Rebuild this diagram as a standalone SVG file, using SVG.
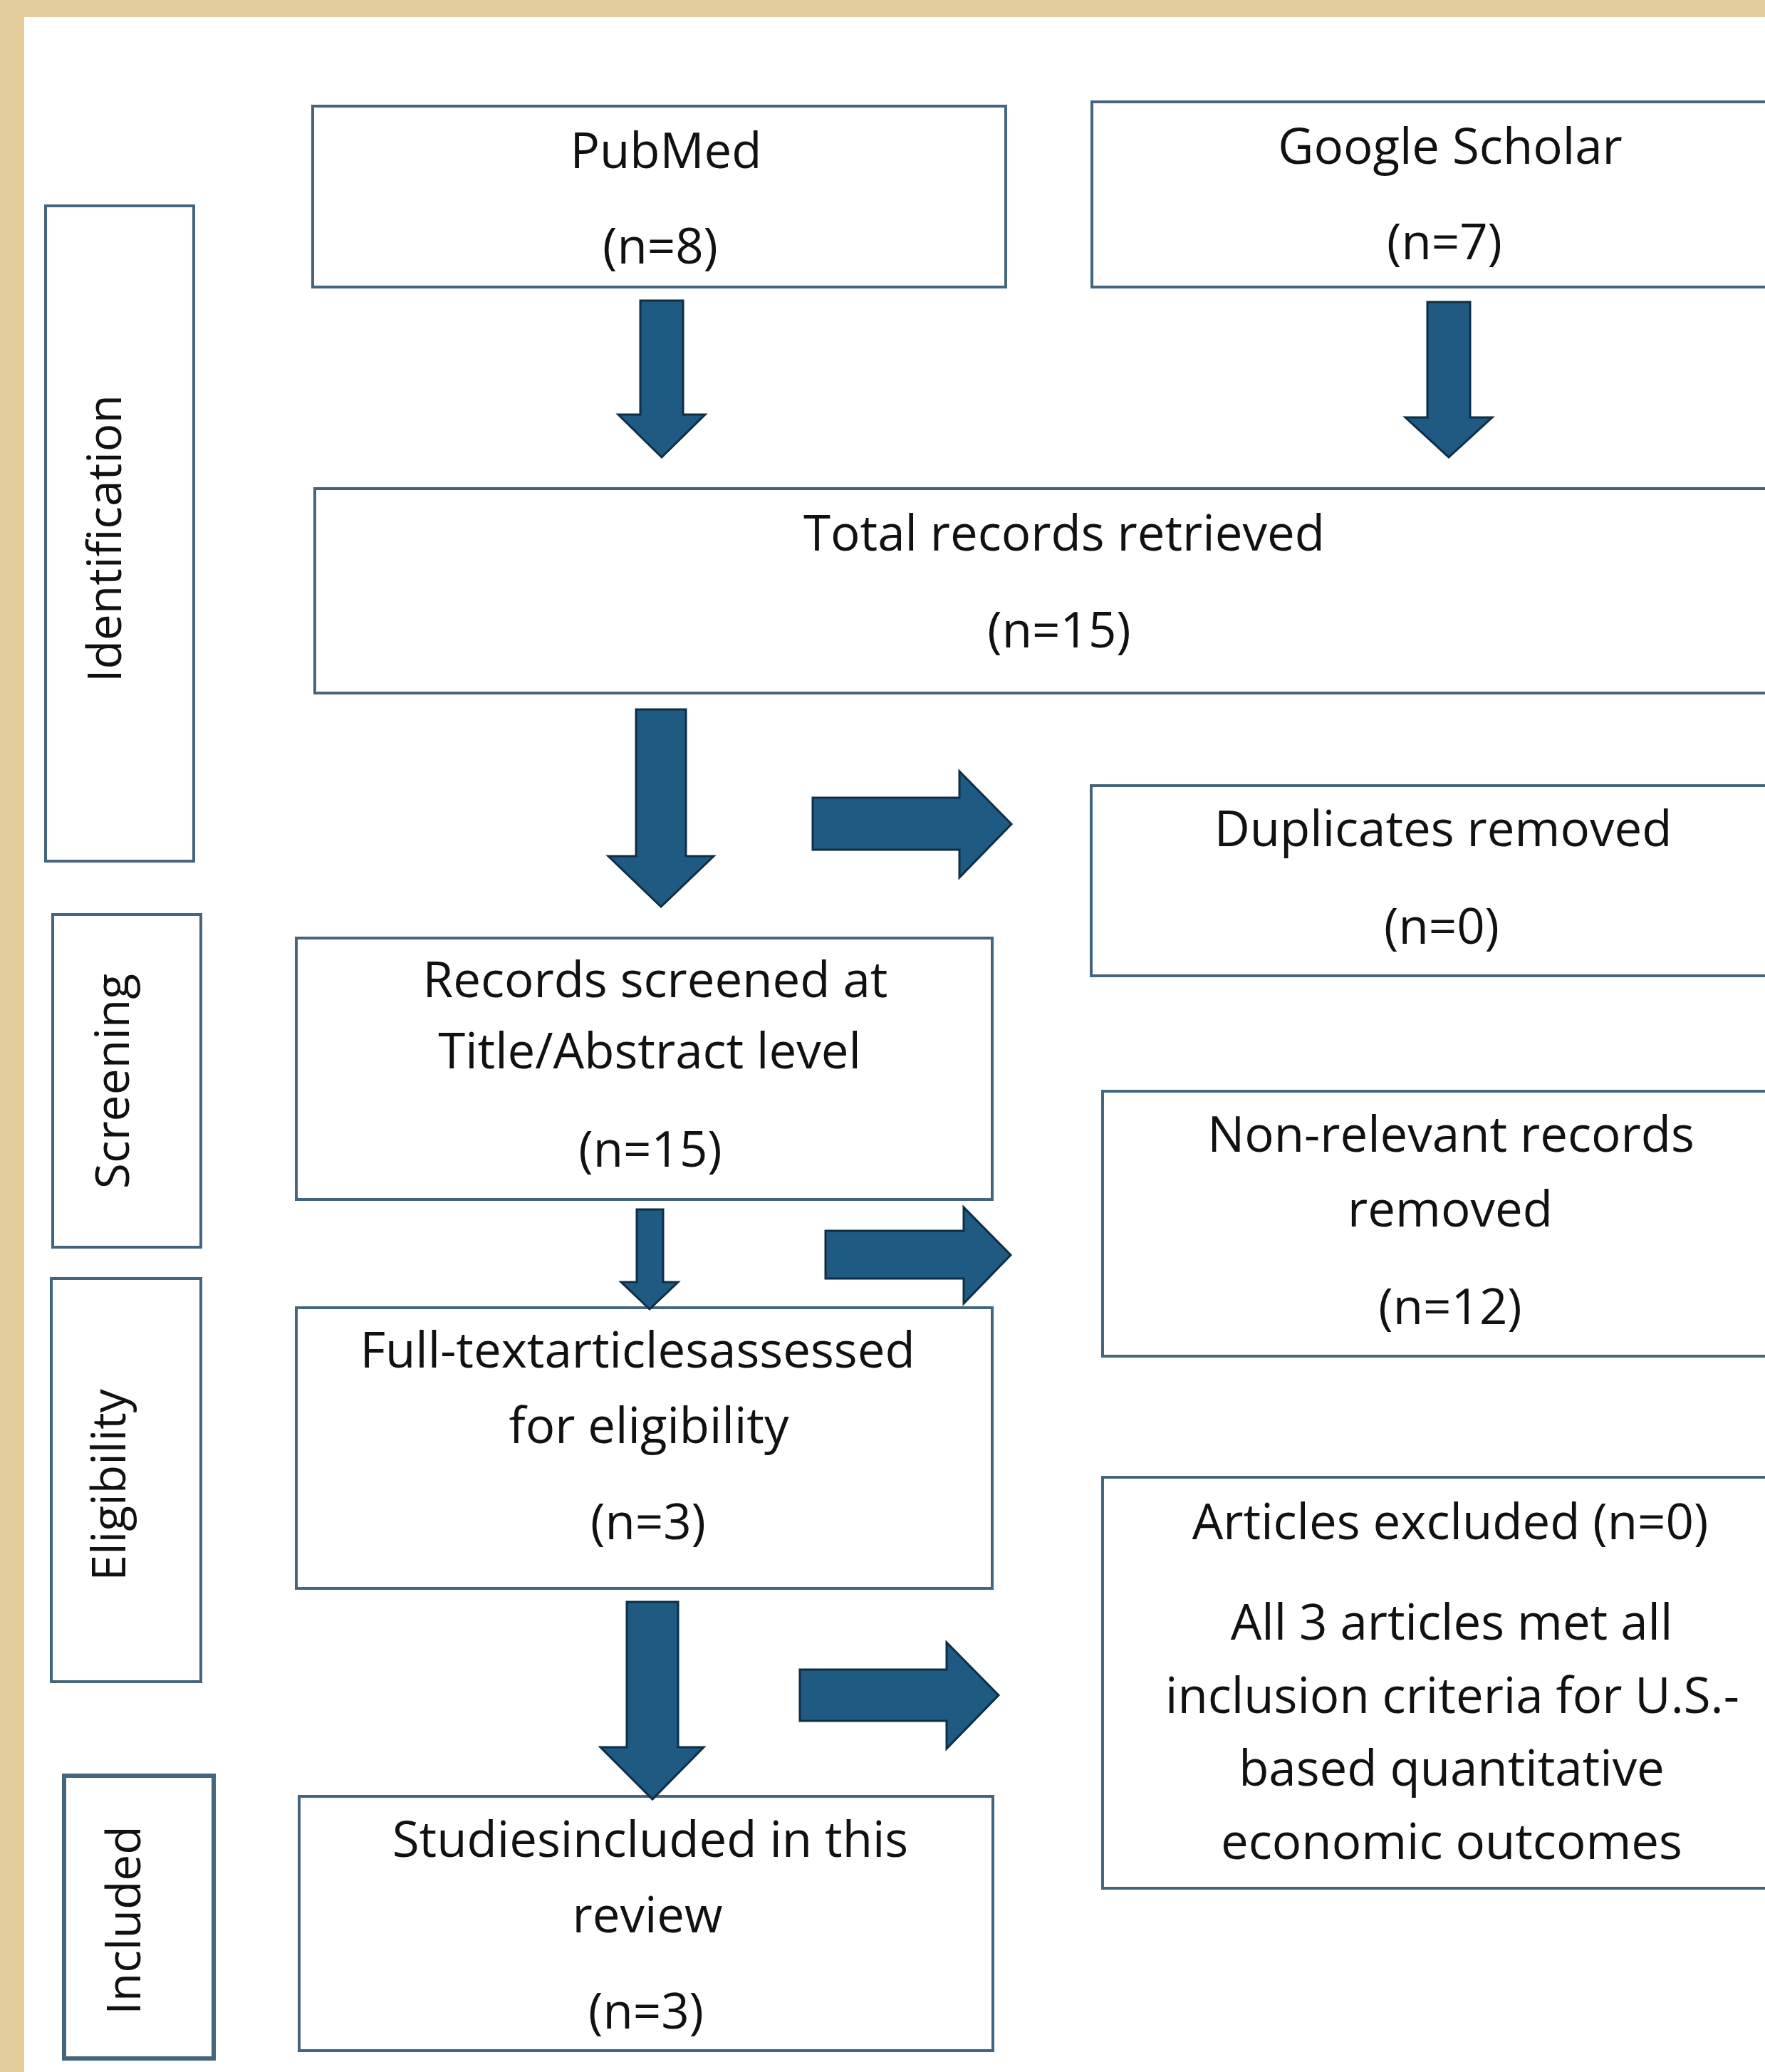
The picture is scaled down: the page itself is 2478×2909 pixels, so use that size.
<svg xmlns="http://www.w3.org/2000/svg" width="2478" height="2909" viewBox="0 0 2478 2909">
<style>
.box{fill:#ffffff;stroke:#45647D;stroke-width:4}
.side{fill:#ffffff;stroke:#45647D;stroke-width:4}
.t{font-family:"Open Sans","Liberation Sans",sans-serif;font-size:69px;fill:#111111;text-anchor:middle}
.v{font-family:"Open Sans","Liberation Sans",sans-serif;font-size:66px;fill:#111111;text-anchor:middle}
.arr{fill:#1F5A82;stroke:#0E2E45;stroke-width:3;stroke-linejoin:miter}
</style>
<rect x="0" y="0" width="2478" height="2909" fill="#ffffff"/>
<rect x="0" y="0" width="2478" height="24" fill="#E2CD9B"/>
<rect x="0" y="0" width="34" height="2909" fill="#E2CD9B"/>

<g id="stage-identification">
<rect class="side" x="64" y="289" width="208" height="920"/>
<text class="v" transform="translate(170,756) rotate(-90)">Identification</text>
</g>
<g id="stage-screening">
<rect class="side" x="74" y="1284" width="208" height="467"/>
<text class="v" transform="translate(181,1518) rotate(-90)">Screening</text>
</g>
<g id="stage-eligibility">
<rect class="side" x="72" y="1795" width="210" height="566"/>
<text class="v" transform="translate(176,2085) rotate(-90)">Eligibility</text>
</g>
<g id="stage-included">
<rect class="side" x="90" y="2493" width="210" height="397" style="stroke-width:6"/>
<text class="v" transform="translate(197,2696) rotate(-90)">Included</text>
</g>

<g id="pubmed">
<rect class="box" x="439" y="149" width="973" height="254"/>
<text class="t" x="935" y="236">PubMed</text>
<text class="t" x="927" y="370">(n=8)</text>
</g>
<g id="google-scholar">
<rect class="box" x="1533" y="143" width="1010" height="260"/>
<text class="t" x="2036" y="230">Google Scholar</text>
<text class="t" x="2028" y="364">(n=7)</text>
</g>
<g id="total-records">
<rect class="box" x="442" y="686" width="2104" height="287"/>
<text class="t" x="1494" y="773">Total records retrieved</text>
<text class="t" x="1487" y="909">(n=15)</text>
</g>
<g id="duplicates">
<rect class="box" x="1532" y="1103" width="1000" height="267"/>
<text class="t" x="2026" y="1188">Duplicates removed</text>
<text class="t" x="2024" y="1325">(n=0)</text>
</g>
<g id="records-screened">
<rect class="box" x="416" y="1317" width="977" height="367"/>
<text class="t" x="920" y="1400">Records screened at</text>
<text class="t" x="912" y="1500">Title/Abstract level</text>
<text class="t" x="913" y="1638">(n=15)</text>
</g>
<g id="non-relevant">
<rect class="box" x="1548" y="1532" width="990" height="372"/>
<text class="t" x="2037" y="1617">Non-relevant records</text>
<text class="t" x="2036" y="1722">removed</text>
<text class="t" x="2036" y="1859">(n=12)</text>
</g>
<g id="full-text">
<rect class="box" x="416" y="1836" width="977" height="394"/>
<text class="t" x="895" y="1920">Full-textarticlesassessed</text>
<text class="t" x="911" y="2026">for eligibility</text>
<text class="t" x="910" y="2161">(n=3)</text>
</g>
<g id="articles-excluded">
<rect class="box" x="1548" y="2074" width="990" height="577"/>
<text class="t" x="2036" y="2161">Articles excluded (n=0)</text>
<text class="t" x="2038" y="2302">All 3 articles met all</text>
<text class="t" x="2039" y="2405">inclusion criteria for U.S.-</text>
<text class="t" x="2038" y="2507">based quantitative</text>
<text class="t" x="2038" y="2610">economic outcomes</text>
</g>
<g id="studies-included">
<rect class="box" x="420" y="2522" width="974" height="357"/>
<text class="t" x="913" y="2607">Studiesincluded in this</text>
<text class="t" x="909" y="2713">review</text>
<text class="t" x="907" y="2848">(n=3)</text>
</g>

<g id="connectors">
<polygon class="arr" points="899,422 959,422 959,582 990,582 929,642 868,582 899,582"/>
<polygon class="arr" points="2004,424 2064,424 2064,586 2095,586 2034,642 1973,586 2004,586"/>
<polygon class="arr" points="893,996 963,996 963,1202 1002,1202 928,1273 854,1202 893,1202"/>
<polygon class="arr" points="1141,1120 1347,1120 1347,1083 1420,1157 1347,1232 1347,1193 1141,1193"/>
<polygon class="arr" points="894,1698 931,1698 931,1800 952,1800 912,1838 872,1800 894,1800"/>
<polygon class="arr" points="1159,1728 1353,1728 1353,1695 1419,1762 1353,1830 1353,1795 1159,1795"/>
<polygon class="arr" points="880,2249 952,2249 952,2453 988,2453 916,2526 843,2453 880,2453"/>
<polygon class="arr" points="1123,2344 1329,2344 1329,2306 1402,2380 1329,2455 1329,2416 1123,2416"/>
</g>
</svg>
